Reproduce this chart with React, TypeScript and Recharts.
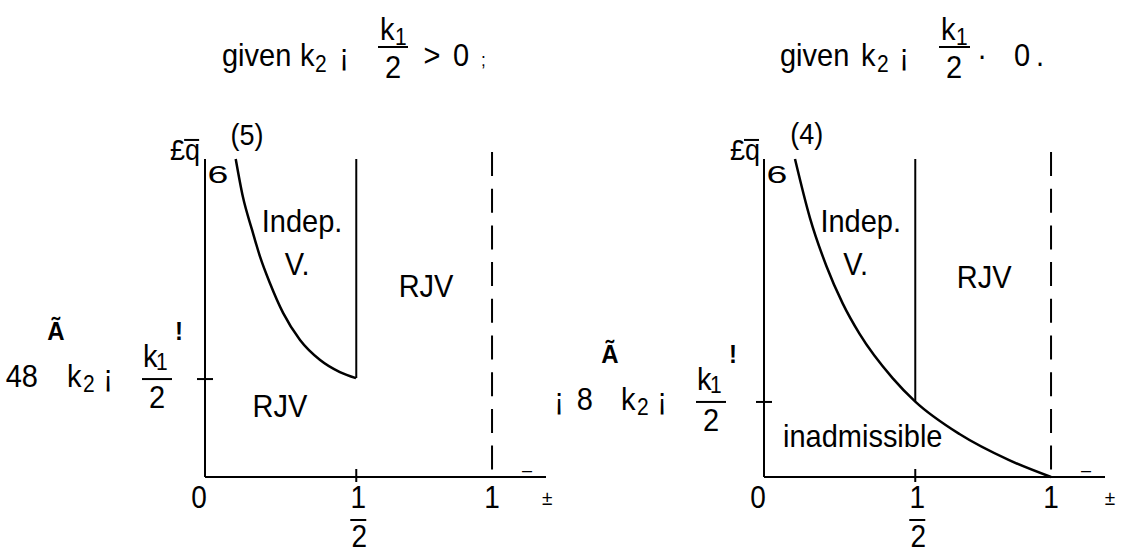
import React from "react";
import { LineChart, Line, XAxis, YAxis, ReferenceLine, ReferenceDot } from "recharts";

const FONT = "'Liberation Sans', Arial, Helvetica, sans-serif";
const INK = "#000";
const SX = 0.9; // the figure's face is a little narrower/taller than Arial

// axis: delta runs 0 .. 1 (the 1/2 mark sits a little right of the true middle in the figure)
const xTicks = [0, 0.527, 1];
const xTickLabels = ["0", "1/2", "1"];
const halfX = 0.527;
const xMax = 1.188;
const dashTop = 1.022;

// boundary (5), left panel
const curve5X = [0.107, 0.132, 0.164, 0.192, 0.226, 0.272, 0.331, 0.401, 0.47, 0.526];
const curve5Y = [1.0, 0.881, 0.777, 0.692, 0.61, 0.516, 0.431, 0.368, 0.33, 0.311];

// boundary (4), right panel
const curve4X = [0.108, 0.16, 0.218, 0.274, 0.333, 0.448, 0.527, 0.681, 0.854, 1.0];
const curve4Y = [1.0, 0.815, 0.662, 0.546, 0.45, 0.311, 0.237, 0.135, 0.053, 0];

const yTickLeft = 0.308;
const yTickRight = 0.236;
const prefixLeft = ["48"];
const prefixRight = ["¡", "8"];

type Note = { x: number; y: number; text: string; size?: number; kind?: "qbar" | "six" };

const T = (p: { x: number; y: number; size?: number; anchor?: "start" | "middle" | "end"; bold?: boolean; children: React.ReactNode }) => (
  <text
    transform={`translate(${p.x} ${p.y}) scale(${SX} 1)`}
    fontFamily={FONT}
    fill={INK}
    fontSize={(p.size ?? 29) / SX}
    textAnchor={p.anchor ?? "start"}
    fontWeight={p.bold ? "bold" : undefined}
  >
    {p.children}
  </text>
);

const Bar = (p: { x1: number; x2: number; y: number }) => (
  <line x1={p.x1} x2={p.x2} y1={p.y} y2={p.y} stroke={INK} strokeWidth={2} />
);

const XTick = (p: any) => {
  const { x, y, payload } = p;
  const label = xTickLabels[xTicks.indexOf(payload.value)] ?? String(payload.value);
  if (label === "0") return <T x={x - 6} y={y + 31} size={28} anchor="middle">0</T>;
  if (!label.includes("/")) return <T x={x} y={y + 31} size={28} anchor="middle">{label}</T>;
  const [num, den] = label.split("/");
  return (
    <g>
      <line x1={x} x2={x} y1={y - 8} y2={y + 5} stroke={INK} strokeWidth={2} />
      <T x={x + 2} y={y + 31} size={28} anchor="middle">{num}</T>
      <Bar x1={x - 6} x2={x + 10} y={y + 43} />
      <T x={x + 3} y={y + 70} size={28} anchor="middle">{den}</T>
    </g>
  );
};

const YTick = (p: any) => {
  const { x, y, prefix, shift = 0 } = p;
  const s = x + shift;
  return (
    <g>
      <line x1={x - 8} x2={x + 8} y1={y} y2={y} stroke={INK} strokeWidth={2} />
      {prefix.length === 1 ? (
        <T x={s - 167} y={y + 8} anchor="end">{prefix[0]}</T>
      ) : (
        <>
          <T x={s - 200} y={y + 8} anchor="middle">{prefix[0]}</T>
          <T x={s - 166} y={y + 8} anchor="end">{prefix[1]}</T>
        </>
      )}
      <T x={s - 138} y={y + 8}>k</T>
      <T x={s - 122} y={y + 13} size={21}>2</T>
      <T x={s - 97} y={y + 8} anchor="middle">¡</T>
      <T x={s - 62} y={y - 12}>k</T>
      <T x={s - 49} y={y - 9} size={21}>1</T>
      <Bar x1={s - 63} x2={s - 33} y={y} />
      <T x={s - 48} y={y + 29} anchor="middle">2</T>
      <T x={s - 149} y={y - 39} size={24} anchor="middle" bold>Ã</T>
      <T x={s - 26} y={y - 39} size={24} anchor="middle" bold>!</T>
    </g>
  );
};

const noteDot = (n: Note, i: number) => (
  <ReferenceDot
    key={`note-${i}`}
    x={n.x}
    y={n.y}
    r={0}
    fill="none"
    stroke="none"
    ifOverflow="visible"
    label={(p: any) => {
      const vb = p.viewBox || {};
      const cx = (vb.x ?? 0) + (vb.width ?? 0) / 2;
      const cy = (vb.y ?? 0) + (vb.height ?? 0) / 2;
      const size = n.size ?? 29;
      if (n.kind === "qbar") {
        return (
          <g>
            <T x={cx} y={cy} size={size} anchor="end">{n.text}</T>
            <line x1={cx - 16} x2={cx - 1} y1={cy - 20} y2={cy - 20} stroke={INK} strokeWidth={2} />
          </g>
        );
      }
      if (n.kind === "six") {
        return (
          <text transform={`translate(${cx},${cy}) scale(1.25,0.78)`} x={0} y={0} textAnchor="middle" fontFamily={FONT} fill={INK} fontSize={size}>
            {n.text}
          </text>
        );
      }
      return <T x={cx} y={cy} size={size} anchor="middle">{n.text}</T>;
    }}
  />
);

type PanelProps = {
  left: number;
  width: number;
  marginLeft: number;
  marginRight: number;
  curveX: number[];
  curveY: number[];
  yTick: number;
  prefix: string[];
  shift: number;
  notes: Note[];
};

function Panel(props: PanelProps) {
  const data = props.curveX.map((x, i) => ({ x, y: props.curveY[i] }));
  const hit = props.curveX.indexOf(halfX);
  const midBottom = props.curveY[hit >= 0 ? hit : props.curveY.length - 1];
  return (
    <div style={{ position: "absolute", left: props.left, top: 0 }}>
      <LineChart
        width={props.width}
        height={554}
        data={data}
        margin={{ top: 159, right: props.marginRight, bottom: 7, left: props.marginLeft }}
      >
        <XAxis
          type="number"
          dataKey="x"
          domain={[0, xMax]}
          ticks={xTicks}
          interval={0}
          allowDataOverflow
          height={70}
          tickSize={0}
          tickMargin={0}
          tickLine={false}
          axisLine={{ stroke: INK, strokeWidth: 2 }}
          tick={<XTick />}
        />
        <YAxis
          type="number"
          domain={[0, 1]}
          ticks={[props.yTick]}
          interval={0}
          width={1}
          tickSize={0}
          tickMargin={0}
          tickLine={false}
          axisLine={{ stroke: INK, strokeWidth: 2 }}
          tick={(t: any) => <YTick {...t} prefix={props.prefix} shift={props.shift} />}
        />
        <ReferenceLine segment={[{ x: halfX, y: midBottom }, { x: halfX, y: 1 }]} stroke={INK} strokeWidth={2} />
        <ReferenceLine
          segment={[{ x: 1, y: dashTop }, { x: 1, y: 0 }]}
          stroke={INK}
          strokeWidth={2}
          strokeDasharray="24 12.7"
          ifOverflow="visible"
        />
        <Line type="monotone" dataKey="y" stroke={INK} strokeWidth={2.5} dot={false} isAnimationActive={false} />
        {props.notes.map(noteDot)}
      </LineChart>
    </div>
  );
}

const Title = () => (
  <svg width={1123} height={100} style={{ position: "absolute", left: 0, top: 0 }}>
    {/* left */}
    <T x={222} y={66}>given</T>
    <T x={300} y={66}>k</T>
    <T x={315} y={72} size={21}>2</T>
    <T x={344} y={66} anchor="middle">¡</T>
    <T x={380} y={40}>k</T>
    <T x={395} y={45} size={21}>1</T>
    <Bar x1={378} x2={408} y={47} />
    <T x={393} y={78} anchor="middle">2</T>
    <T x={432} y={66} anchor="middle">&gt;</T>
    <T x={461} y={66} anchor="middle">0</T>
    <T x={481} y={66} size={17}>;</T>
    {/* right */}
    <T x={780} y={66}>given</T>
    <T x={861} y={66}>k</T>
    <T x={877} y={72} size={21}>2</T>
    <T x={904} y={66} anchor="middle">¡</T>
    <T x={941} y={40}>k</T>
    <T x={956} y={45} size={21}>1</T>
    <Bar x1={939} x2={970} y={47} />
    <T x={954} y={78} anchor="middle">2</T>
    <T x={982} y={66} anchor="middle">·</T>
    <T x={1022} y={66} anchor="middle">0</T>
    <T x={1036} y={66}>.</T>
  </svg>
);

export default function App() {
  return (
    <div style={{ position: "absolute", left: 0, top: 0, width: 1123, height: 554, background: "#fff", overflow: "hidden" }}>
      <Title />
      <Panel
        left={0}
        width={560}
        marginLeft={204}
        marginRight={14}
        curveX={curve5X}
        curveY={curve5Y}
        yTick={yTickLeft}
        prefix={prefixLeft}
        shift={0}
        notes={[
          { x: 0.146, y: 1.044, text: "(5)", size: 27 },
          { x: -0.017, y: 0.997, text: "£q", size: 27, kind: "qbar" },
          { x: 0.045, y: 0.925, text: "6", size: 30, kind: "six" },
          { x: 0.338, y: 0.77, text: "Indep." },
          { x: 0.321, y: 0.635, text: "V." },
          { x: 0.77, y: 0.566, text: "RJV" },
          { x: 0.261, y: 0.189, text: "RJV" },
          { x: 1.122, y: 0, text: "–", size: 18 },
          { x: 1.192, y: -0.088, text: "±", size: 19 },
        ]}
      />
      <Panel
        left={540}
        width={583}
        marginLeft={223}
        marginRight={18}
        curveX={curve4X}
        curveY={curve4Y}
        yTick={yTickRight}
        prefix={prefixRight}
        shift={-5}
        notes={[
          { x: 0.149, y: 1.046, text: "(4)", size: 27 },
          { x: -0.014, y: 0.997, text: "£q", size: 27, kind: "qbar" },
          { x: 0.045, y: 0.925, text: "6", size: 30, kind: "six" },
          { x: 0.337, y: 0.77, text: "Indep." },
          { x: 0.319, y: 0.635, text: "V." },
          { x: 0.767, y: 0.594, text: "RJV" },
          { x: 0.344, y: 0.094, text: "inadmissible" },
          { x: 1.122, y: 0, text: "–", size: 18 },
          { x: 1.205, y: -0.088, text: "±", size: 19 },
        ]}
      />
    </div>
  );
}
